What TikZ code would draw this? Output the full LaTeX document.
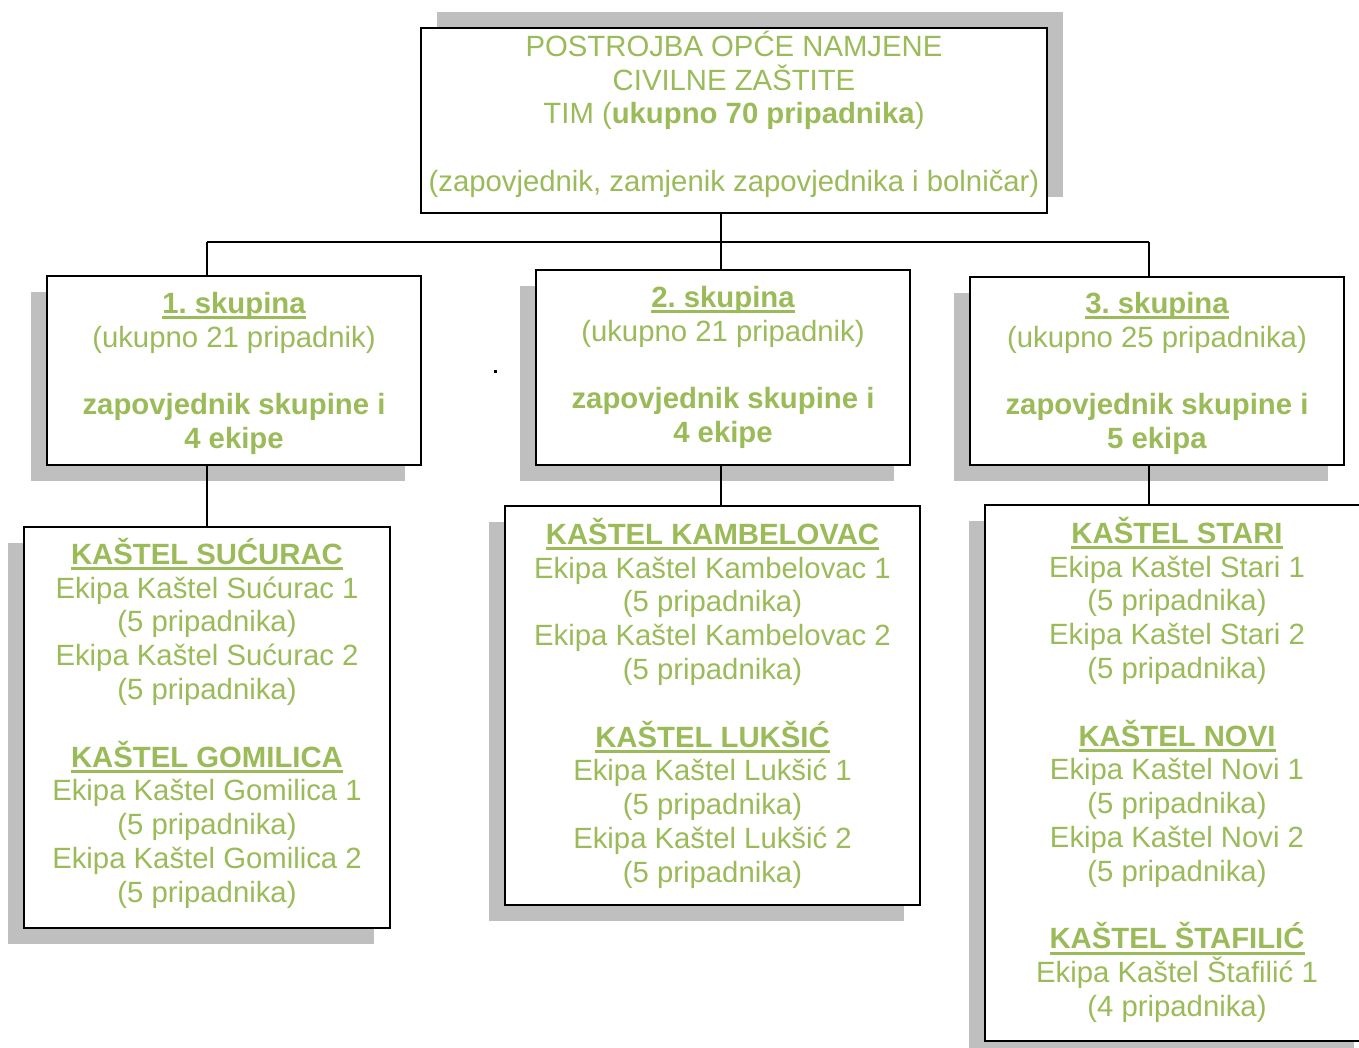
\documentclass[tikz,border=0pt]{standalone}
\usepackage{fontspec}
\setmainfont{Liberation Sans}
\usetikzlibrary{shadows}
\definecolor{ogreen}{HTML}{9BBB59}
\definecolor{shade}{HTML}{BFBFBF}
\newcommand{\myul}[1]{{\setbox0\hbox{#1}\rlap{\rule[-5.8pt]{\wd0}{2.6pt}}\box0}}
\newcommand{\fs}{\rule{0pt}{28pt}}
\frenchspacing
\tikzset{
  box/.style={draw=black, line width=2pt, fill=white, inner sep=0pt},
  shadowup/.style={drop shadow={shadow xshift=16pt, shadow yshift=16pt, fill=shade, opacity=1}},
  shadowdown/.style={drop shadow={shadow xshift=-16pt, shadow yshift=-16pt, fill=shade, opacity=1}},
  txt/.style={anchor=north, inner sep=0pt, align=center, text=ogreen,
    font=\fontsize{29.3}{33.8}\selectfont\frenchspacing},
  conn/.style={draw=black, line width=2pt}
}
\begin{document}
\begin{tikzpicture}[x=1pt,y=-1pt]
\useasboundingbox (0,0) rectangle (1359,1047);
% boxes
\node[box, shadowup, minimum width=626pt, minimum height=185pt] (top) at (734,120.5) {};
\node[box, shadowdown, minimum width=374pt, minimum height=189pt] (b1) at (234,370.5) {};
\node[box, shadowdown, minimum width=374pt, minimum height=195pt] (b2) at (723,367.5) {};
\node[box, shadowdown, minimum width=374pt, minimum height=188pt] (b3) at (1157,371) {};
\node[box, shadowdown, minimum width=366pt, minimum height=401pt] (b4) at (207,727.5) {};
\node[box, shadowdown, minimum width=415pt, minimum height=399pt] (b5) at (712.5,705.5) {};
\node[box, shadowdown, minimum width=385pt, minimum height=536pt] (b6) at (1177.5,773) {};
% connectors
\coordinate (busL) at (207,242);
\coordinate (busM) at (721,242);
\coordinate (busR) at (1149,242);
\draw[conn] (busL) -- (busR);
\draw[conn] (top.south -| busM) -- (b2.north -| busM);
\draw[conn] (busL) -- (b1.north -| busL);
\draw[conn] (busR) -- (b3.north -| busR);
\draw[conn] (b1.south -| busL) -- (b4.north -| busL);
\draw[conn] (b2.south -| busM) -- (b5.north -| busM);
\draw[conn] (b3.south -| busR) -- (b6.north -| busR);
% stray dot
\fill[black] (493.5,369.5) rectangle +(3,3);
% texts
\node[txt] (ttop) at (734,28) {\fs POSTROJBA OPĆE NAMJENE\\ CIVILNE ZAŠTITE\\ TIM (\textbf{ukupno 70 pripadnika})\\[33.8pt] (zapovjednik, zamjenik zapovjednika i bolničar)};
\node[txt] (t1) at (234,285) {\fs\textbf{\myul{1. skupina}}\\ (ukupno 21 pripadnik)\\[33.8pt] \textbf{zapovjednik skupine i}\\ \textbf{4 ekipe}};
\node[txt] (t2) at (723,279) {\fs\textbf{\myul{2. skupina}}\\ (ukupno 21 pripadnik)\\[33.8pt] \textbf{zapovjednik skupine i}\\ \textbf{4 ekipe}};
\node[txt] (t3) at (1157,285) {\fs\textbf{\myul{3. skupina}}\\ (ukupno 25 pripadnika)\\[33.8pt] \textbf{zapovjednik skupine i}\\ \textbf{5 ekipa}};
\node[txt] (t4) at (207,536) {\fs\textbf{\myul{KAŠTEL SUĆURAC}}\\ Ekipa Kaštel Sućurac 1\\ (5 pripadnika)\\ Ekipa Kaštel Sućurac 2\\ (5 pripadnika)\\[33.8pt] \textbf{\myul{KAŠTEL GOMILICA}}\\ Ekipa Kaštel Gomilica 1\\ (5 pripadnika)\\ Ekipa Kaštel Gomilica 2\\ (5 pripadnika)};
\node[txt] (t5) at (712.5,516) {\fs\textbf{\myul{KAŠTEL KAMBELOVAC}}\\ Ekipa Kaštel Kambelovac 1\\ (5 pripadnika)\\ Ekipa Kaštel Kambelovac 2\\ (5 pripadnika)\\[33.8pt] \textbf{\myul{KAŠTEL LUKŠIĆ}}\\ Ekipa Kaštel Lukšić 1\\ (5 pripadnika)\\ Ekipa Kaštel Lukšić 2\\ (5 pripadnika)};
\node[txt] (t6) at (1177,515) {\fs\textbf{\myul{KAŠTEL STARI}}\\ Ekipa Kaštel Stari 1\\ (5 pripadnika)\\ Ekipa Kaštel Stari 2\\ (5 pripadnika)\\[33.8pt] \textbf{\myul{KAŠTEL NOVI}}\\ Ekipa Kaštel Novi 1\\ (5 pripadnika)\\ Ekipa Kaštel Novi 2\\ (5 pripadnika)\\[33.8pt] \textbf{\myul{KAŠTEL ŠTAFILIĆ}}\\ Ekipa Kaštel Štafilić 1\\ (4 pripadnika)};
\end{tikzpicture}
\end{document}
